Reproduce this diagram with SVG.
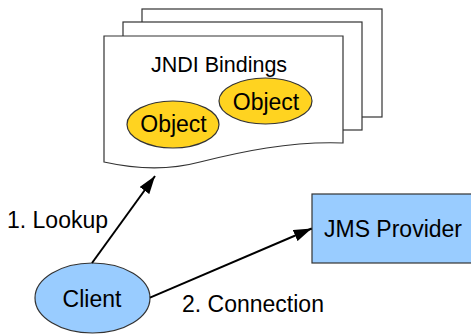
<svg xmlns="http://www.w3.org/2000/svg" width="471" height="334" viewBox="0 0 471 334">
<defs>
<style>
text{font-family:"Liberation Sans",Arial,sans-serif;font-size:23px;fill:#000}
.page{fill:#fff;stroke:#333;stroke-width:1.2}
.obj{fill:#ffd320;stroke:#333;stroke-width:1.2}
.blue{fill:#99ccff;stroke:#333;stroke-width:1.2}
.conn{stroke:#000;stroke-width:2;fill:none}
</style>
<marker id="arr" viewBox="0 0 18 12" refX="18" refY="6" markerWidth="18" markerHeight="12" markerUnits="userSpaceOnUse" orient="auto">
<path d="M0,0 L18,6 L0,12 Z" fill="#000"/>
</marker>
</defs>
<g id="jndi">
<rect class="page" x="142" y="9" width="240" height="108"/>
<rect class="page" x="123" y="22" width="239" height="108"/>
<path class="page" d="M104,36 H343 V143 C290,141 240,152 200,162 C170,170 140,170 104,162 Z"/>
<text x="219" y="72" text-anchor="middle" style="font-size:21.5px">JNDI Bindings</text>
</g>
<g id="object1">
<ellipse class="obj" cx="173" cy="124.5" rx="46" ry="23.5"/>
<text x="173.5" y="132" text-anchor="middle">Object</text>
</g>
<g id="object2">
<ellipse class="obj" cx="265.5" cy="101" rx="46.5" ry="23"/>
<text x="266" y="110" text-anchor="middle">Object</text>
</g>
<g id="provider">
<rect class="blue" x="312" y="194" width="170" height="69"/>
<text x="393" y="237" text-anchor="middle">JMS Provider</text>
</g>
<g id="client">
<ellipse class="blue" cx="92.5" cy="298" rx="57.5" ry="35"/>
<text x="92" y="306.5" text-anchor="middle">Client</text>
</g>
<g id="connectors">
<line class="conn" x1="92" y1="263" x2="155" y2="176" marker-end="url(#arr)"/>
<line class="conn" x1="150" y1="297.7" x2="311.7" y2="228.5" marker-end="url(#arr)"/>
<text x="7" y="227.5">1. Lookup</text>
<text x="182" y="311.5">2. Connection</text>
</g>
</svg>
